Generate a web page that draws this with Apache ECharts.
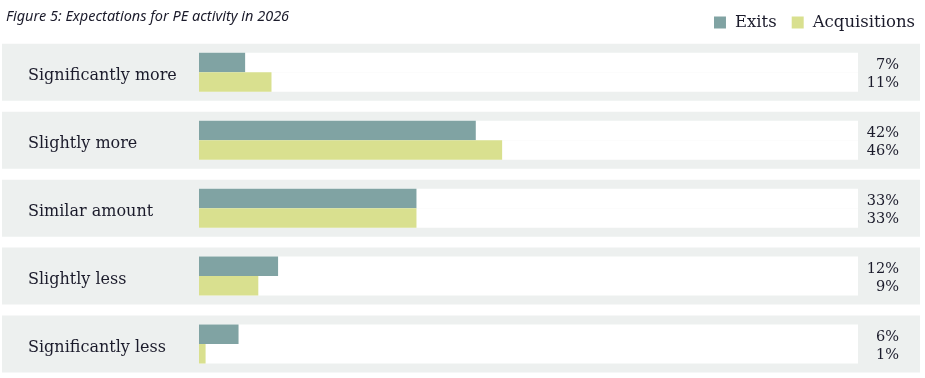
<!DOCTYPE html>
<html><head><meta charset="utf-8">
<script src="https://cdn.jsdelivr.net/npm/echarts@6/dist/echarts.min.js"></script>
<style>html,body{margin:0;padding:0;background:#fff}#c{width:925px;height:378px}</style>
</head><body><div id="c"></div>
<script>
const categories = ['Significantly more', 'Slightly more', 'Similar amount', 'Slightly less', 'Significantly less'];
const exits = [7, 42, 33, 12, 6];
const acquisitions = [11, 46, 33, 9, 1];
const bandValues = [1, 1, 1, 1, 1];

const textColor = '#1b1b2b';
const serif = 'DejaVu Serif';
const chart = echarts.init(document.getElementById('c'));
chart.setOption({
  animation: false,
  title: {
    text: 'Figure 5: Expectations for PE activity in 2026',
    left: 1, top: 4,
    textStyle: {fontFamily: 'Noto Sans', fontStyle: 'italic', fontWeight: 'normal', fontSize: 14.5, color: textColor}
  },
  legend: {
    data: ['Exits', 'Acquisitions'],
    right: 5, top: 9,
    itemWidth: 12, itemHeight: 12, itemGap: 15,
    icon: 'rect',
    textStyle: {fontFamily: serif, fontSize: 16.5, color: textColor, padding: [0, 0, 0, 4]}
  },
  grid: [
    {left: 199, right: 67, top: 38.25, bottom: -2.75},
    {left: 2, right: 5, top: 38.25, bottom: -2.75}
  ],
  xAxis: [
    {gridIndex: 0, type: 'value', min: 0, max: 100, show: false},
    {gridIndex: 1, type: 'value', min: 0, max: 1, show: false}
  ],
  yAxis: [
    {gridIndex: 0, type: 'category', data: categories, inverse: true, z: 10,
     axisLine: {show: false}, axisTick: {show: false}, splitLine: {show: false},
     axisLabel: {margin: 171, align: 'left', verticalAlign: 'top', lineHeight: 8,
       fontFamily: serif, fontSize: 16, color: textColor}},
    {gridIndex: 1, type: 'category', data: categories, inverse: true, show: false}
  ],
  series: [
    {type: 'bar', name: 'band', xAxisIndex: 1, yAxisIndex: 1, data: bandValues, barWidth: 57, z: 1,
     itemStyle: {color: '#edf0ef'}, silent: true,
     label: {show: true, position: 'insideRight', distance: 21, align: 'right',
       fontFamily: serif, fontSize: 14.5, color: textColor, lineHeight: 18, offset: [0, 2.5],
       formatter: p => exits[p.dataIndex] + '%\n' + acquisitions[p.dataIndex] + '%'}},
    {type: 'bar', name: 'Exits', data: exits, barWidth: 19.5, barGap: '0%', z: 3,
     itemStyle: {color: '#80a3a3'}, showBackground: true, backgroundStyle: {color: '#ffffff', opacity: 1}},
    {type: 'bar', name: 'Acquisitions', data: acquisitions, barWidth: 19.5, barGap: '0%', z: 3,
     itemStyle: {color: '#d9e08f'}, showBackground: true, backgroundStyle: {color: '#ffffff', opacity: 1}}
  ]
});
</script></body></html>
